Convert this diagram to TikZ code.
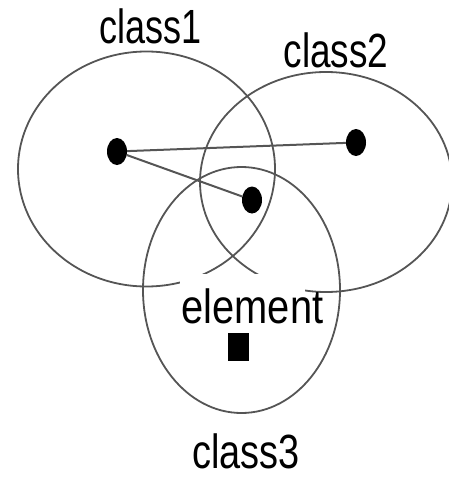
\documentclass[tikz,border=0pt]{standalone}
\usepackage{fontspec}
\setmainfont{Liberation Sans}
\usetikzlibrary{shapes.geometric}
\definecolor{linegray}{RGB}{85,85,85}
\begin{document}
\begin{tikzpicture}[x=1pt,y=-1pt,
  classset/.style={ellipse, draw=linegray, line width=1.8pt, inner sep=0pt},
  dotnode/.style={ellipse, fill=black, inner sep=0pt, minimum width=20pt, minimum height=27pt},
  link/.style={draw=linegray, line width=2pt},
  lab/.style={inner sep=0pt, anchor=base, font=\fontsize{48}{48}\selectfont}]
\useasboundingbox (0,0) rectangle (448,479);
% class sets
\node[classset, minimum width=257pt, minimum height=235pt] (c1) at (146.5,169) {};
\node[classset, minimum width=252pt, minimum height=220pt] (c2) at (326,182) {};
\node[classset, minimum width=197pt, minimum height=246pt] (c3) at (241.5,290) {};
% mask behind the element label
\fill[white] (180,274) rectangle (305,328);
% labels
\node[lab] (l1) at (151,43) {\scalebox{0.75}[1]{class1}};
\node[lab] (l2) at (336,67) {\scalebox{0.77}[1]{class2}};
\node[lab] (l3) at (246,468) {\scalebox{0.79}[1]{class3}};
\node[lab] (element) at (252.5,323) {\scalebox{0.83}[1]{element}};
% element square
\node[fill=black, inner sep=0pt, minimum width=21pt, minimum height=28pt] (elem) at (238.5,347) {};
% class centres
\node[dotnode] (d1) at (117,151.5) {};
\node[dotnode] (d2) at (356,142.5) {};
\node[dotnode] (d3) at (252,200) {};
\draw[link] (d1) -- (d2);
\draw[link] (d1) -- (d3);
\end{tikzpicture}
\end{document}
